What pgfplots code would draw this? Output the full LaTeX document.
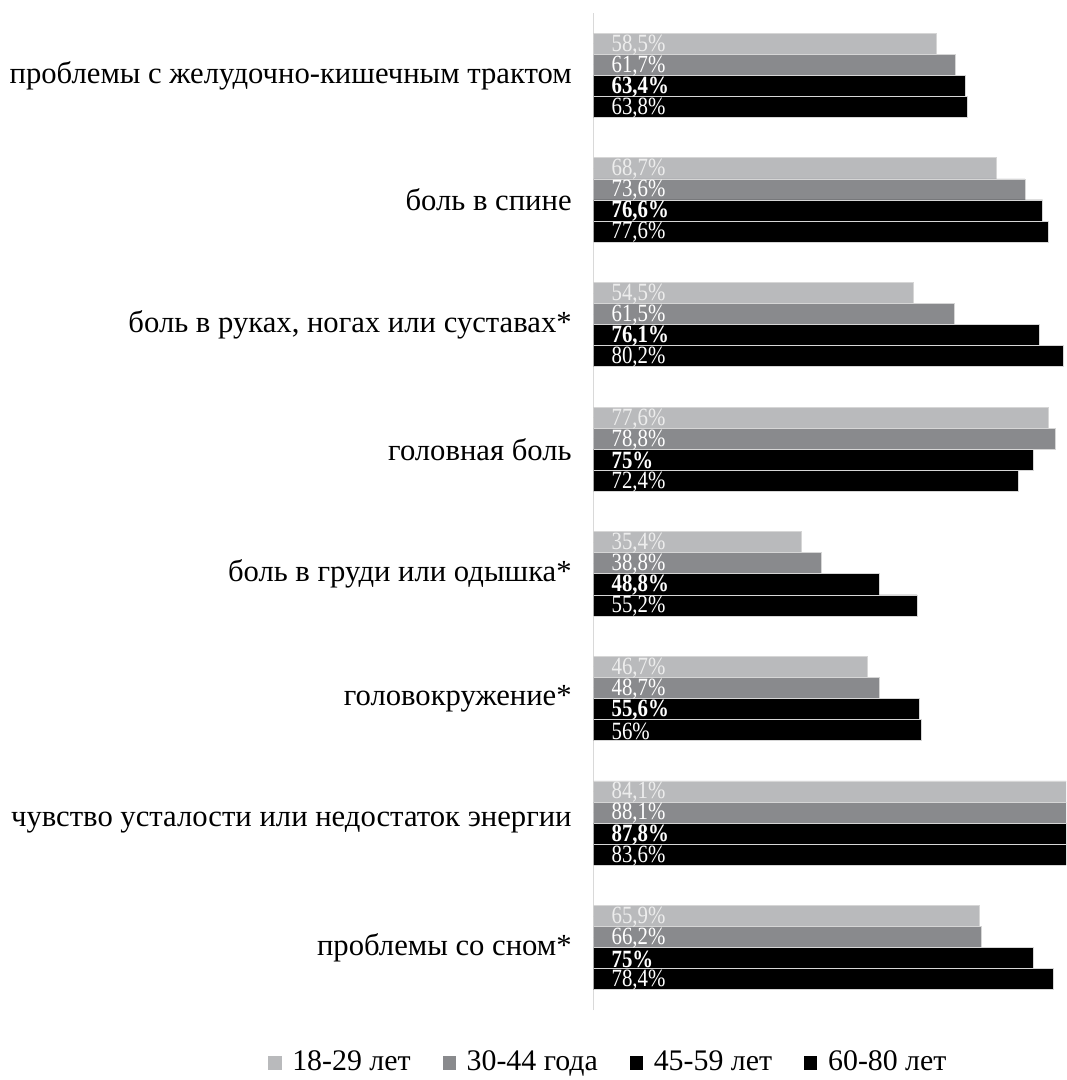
\documentclass[border=0pt]{standalone}
\usepackage{fontspec}
\setmainfont{Liberation Serif}
\newfontfamily\lblfont[FakeStretch=0.84]{Liberation Serif}
\usepackage{pgfplots}
\pgfplotsset{compat=1.18}
\usepackage{pgfplotstable}

\definecolor{cA}{HTML}{B9BABC}
\definecolor{cB}{HTML}{898A8D}
\definecolor{cC}{HTML}{000000}
\definecolor{edge}{HTML}{D6D6D6}
\definecolor{axl}{HTML}{D9D9D9}

\pgfplotstableread{
y a b c d
7 58.5 61.7 63.4 63.8
6 68.7 73.6 76.6 77.6
5 54.5 61.5 76.1 80.2
4 77.6 78.8 75 72.4
3 35.4 38.8 48.8 55.2
2 46.7 48.7 55.6 56
1 84.1 88.1 87.8 83.6
0 65.9 66.2 75 78.4
}\data

\pgfplotsset{
  sqleg/.style={legend image code/.code={\draw[##1,draw=none] (0pt,-2.5pt) rectangle (5pt,2.5pt);}},
  lbl/.style={forget plot, only marks, mark=*, mark size=0pt, mark options={draw=none, fill=none},
    point meta=explicit,
    nodes near coords={\pgfmathprintnumber[use comma, fixed, precision=1]{\pgfplotspointmeta}\%},
    every node near coord/.style={anchor=west, inner sep=0pt, xshift=6.6pt, yshift=-0.4pt, text=white,
      font=\lblfont\fontsize{9.3}{10}\selectfont}},
}

\begin{document}
\begin{tikzpicture}
\begin{axis}[
  scale only axis, width=177.2pt, height=373.9pt,
  xmin=0, xmax=80.6, ymin=-0.5, ymax=7.5,
  axis x line=none, axis y line*=left,
  y axis line style={draw=axl, line width=0.6pt},
  ytick={0,...,7},
  yticklabels={проблемы со сном*, чувство усталости или недостаток энергии, головокружение*, боль в груди или одышка*, головная боль, {боль в руках, ногах или суставах*}, боль в спине, проблемы с желудочно-кишечным трактом},
  major tick length=0pt,
  yticklabel style={font=\fontsize{11.5}{13}\selectfont, inner sep=0pt, xshift=-8pt},
  /pgf/number format/assume math mode=true,
  bar width=7.9pt,
  legend style={at={(0.035,-0.053)}, anchor=center, legend columns=4, draw=none,
    font=\fontsize{11.2}{13}\selectfont,
    /tikz/every odd column/.append style={column sep=2pt},
    /tikz/every even column/.append style={column sep=10pt}},
]
\addplot[xbar, bar shift=11.85pt, fill=cA, draw=edge, line width=0.3pt, sqleg] table[x=a, y=y] {\data};
\addlegendentry{18-29 лет}
\addplot[xbar, bar shift=3.95pt, fill=cB, draw=edge, line width=0.3pt, sqleg] table[x=b, y=y] {\data};
\addlegendentry{30-44 года}
\addplot[xbar, bar shift=-3.95pt, fill=cC, draw=edge, line width=0.3pt, sqleg] table[x=c, y=y] {\data};
\addlegendentry{45-59 лет}
\addplot[xbar, bar shift=-11.85pt, fill=cC, draw=edge, line width=0.3pt, sqleg] table[x=d, y=y] {\data};
\addlegendentry{60-80 лет}

\addplot[lbl, every node near coord/.append style={text=white!93!black}] table[x expr=0, y expr=\thisrow{y}+0.2535, meta=a] {\data};
\addplot[lbl] table[x expr=0, y expr=\thisrow{y}+0.0845, meta=b] {\data};
\addplot[lbl, every node near coord/.append style={font=\lblfont\fontsize{9.3}{10}\selectfont\bfseries}] table[x expr=0, y expr=\thisrow{y}-0.0845, meta=c] {\data};
\addplot[lbl] table[x expr=0, y expr=\thisrow{y}-0.2535, meta=d] {\data};

\coordinate (A) at (rel axis cs:0,0);
\coordinate (B) at (rel axis cs:1,1);
\end{axis}
\pgfresetboundingbox
\useasboundingbox ([shift={(-222.6pt,-26.25pt)}]A) rectangle ([shift={(0pt,4.9pt)}]B);
\end{tikzpicture}
\end{document}
